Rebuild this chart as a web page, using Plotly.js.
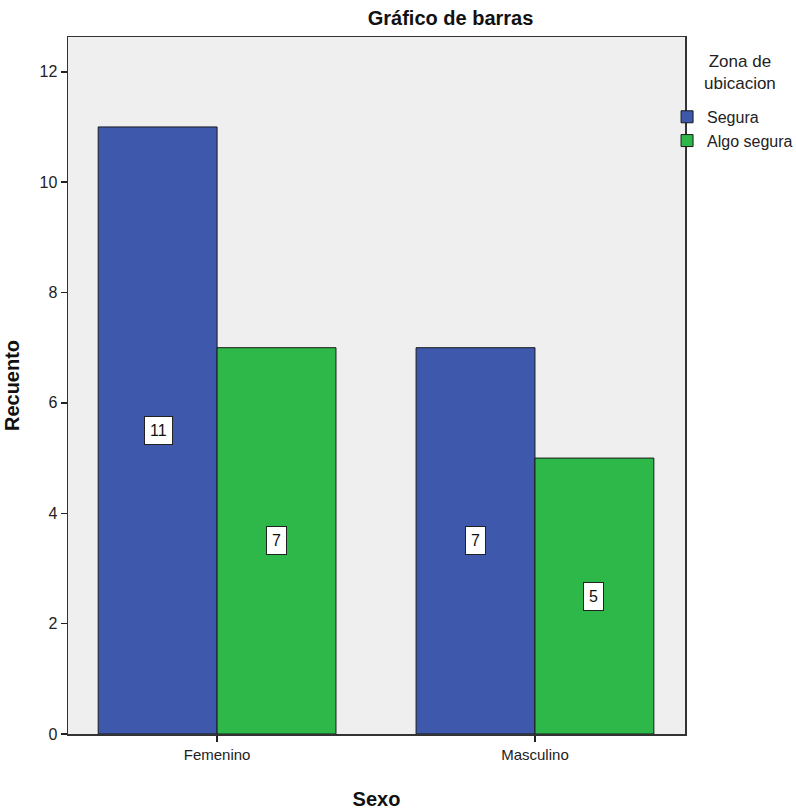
<!DOCTYPE html>
<html>
<head>
<meta charset="utf-8">
<script src="https://cdn.plot.ly/plotly-3.0.1.min.js"></script>
<style>html,body{margin:0;padding:0;background:#fff;}#chart{width:796px;height:812px;}</style>
</head>
<body>
<div id="chart"></div>
<script>
const categories = ["Femenino", "Masculino"];
const seriesNames = ["Segura", "Algo segura"];
const segura = [11, 7];
const algoSegura = [7, 5];
const yTicks = [0, 2, 4, 6, 8, 10, 12];

const colors = ["#3E58AC", "#2FB84A"];
const seriesValues = [segura, algoSegura];
const fontFam = "Liberation Sans, Arial, sans-serif";

const traces = seriesValues.map((vals, i) => ({
  type: "bar",
  name: seriesNames[i],
  x: categories,
  y: vals,
  marker: {color: colors[i], line: {color: "#1a1a1a", width: 1}},
  hoverinfo: "none"
}));

const annotations = [];
seriesValues.forEach((vals, i) => {
  vals.forEach((v, j) => {
    annotations.push({
      x: categories[j], y: v / 2, xref: "x", yref: "y",
      xshift: i === 0 ? -59 : 59,
      text: String(v), showarrow: false,
      font: {family: fontFam, size: 16, color: "#111"},
      bgcolor: "#ffffff", bordercolor: "#222", borderwidth: 1, borderpad: 5
    });
  });
});
annotations.push({
  xref: "paper", yref: "paper", x: 1.089, y: 0.981, xanchor: "center", yanchor: "top",
  text: "Zona de<br>ubicacion", showarrow: false, align: "center",
  font: {family: fontFam, size: 17, color: "#222"}
});

const layout = {
  width: 796, height: 812,
  margin: {l: 68, r: 111, t: 37, b: 78, autoexpand: false},
  paper_bgcolor: "#ffffff",
  plot_bgcolor: "#EFEFEF",
  barmode: "group",
  bargap: 0.252,
  bargroupgap: 0,
  title: {text: "<b>Gráfico de barras</b>", font: {family: fontFam, size: 20, color: "#111"},
    xref: "paper", x: 0.62, xanchor: "center", y: 0.978, yanchor: "middle"},
  xaxis: {
    type: "category", range: [-0.469, 1.472],
    showline: true, linecolor: "#333", linewidth: 1.5, mirror: true,
    ticks: "outside", ticklen: 6, tickcolor: "#222", tickwidth: 1.5,
    showgrid: false, zeroline: false,
    tickfont: {family: fontFam, size: 15, color: "#222"},
    title: {text: "<b>Sexo</b>", font: {family: fontFam, size: 20, color: "#111"}, standoff: 30}
  },
  yaxis: {
    range: [0, 12.63], tickvals: yTicks, ticktext: yTicks.map(String),
    showline: true, linecolor: "#333", linewidth: 1.5, mirror: true,
    ticks: "outside", ticklen: 6, tickcolor: "#222", tickwidth: 1.5,
    showgrid: false, zeroline: false,
    tickfont: {family: fontFam, size: 16, color: "#222"},
    title: {text: "<b>Recuento</b>", font: {family: fontFam, size: 20, color: "#111"}, standoff: 14}
  },
  legend: {
    xref: "container", yref: "container",
    x: 0.838, xanchor: "left", y: 0.877, yanchor: "top",
    font: {family: fontFam, size: 16, color: "#222"},
    bgcolor: "rgba(0,0,0,0)", tracegroupgap: 0, itemwidth: 30
  },
  showlegend: true,
  annotations: annotations
};

Plotly.newPlot("chart", traces, layout, {displayModeBar: false, staticPlot: true});
</script>
</body>
</html>
